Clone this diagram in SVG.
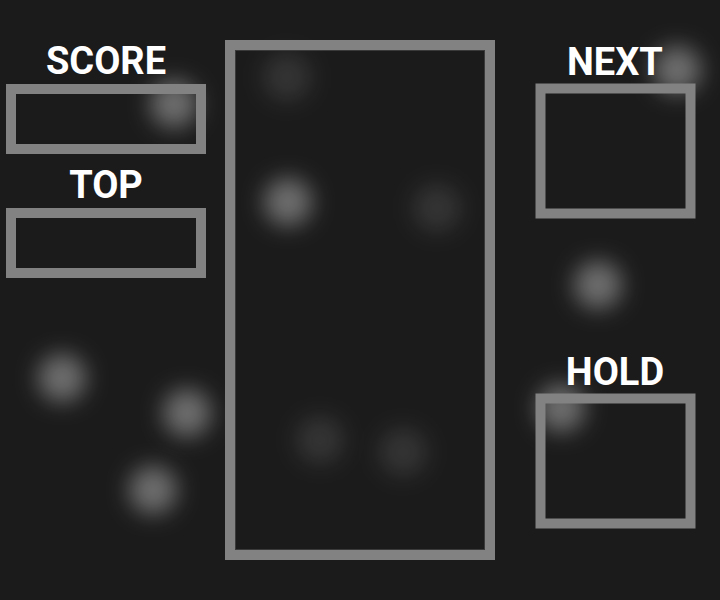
<svg xmlns="http://www.w3.org/2000/svg" width="720" height="600" viewBox="0 0 720 600">
  <defs>
    <filter id="glow" x="-100%" y="-100%" width="300%" height="300%">
      <feGaussianBlur stdDeviation="11"/>
    </filter>
  </defs>
  <style>
    .bg { fill: #1b1b1b; }
    .orb { fill: #ffffff; filter: url(#glow); }
    .bright { fill-opacity: 0.36; }
    .dim { fill-opacity: 0.11; }
    .box { fill: none; stroke: #828282; stroke-width: 10; }
    .inner { fill: none; stroke: #3a3a3a; stroke-width: 1; }
    .label { font-family: Roboto, "Liberation Sans", sans-serif; font-weight: 700; font-size: 38px; fill: #ffffff; text-anchor: middle; }
  </style>
  <rect class="bg" x="0" y="0" width="720" height="600"/>

  <g id="orbs">
    <circle class="orb bright" cx="174" cy="104" r="24"/>
    <circle class="orb dim" cx="287" cy="77" r="24"/>
    <circle class="orb bright" cx="288" cy="202" r="24"/>
    <circle class="orb dim" cx="437" cy="208" r="24"/>
    <circle class="orb bright" cx="598" cy="285" r="24"/>
    <circle class="orb bright" cx="677" cy="70" r="24"/>
    <circle class="orb bright" cx="62" cy="378" r="24"/>
    <circle class="orb bright" cx="187" cy="413" r="24"/>
    <circle class="orb bright" cx="153" cy="490" r="24"/>
    <circle class="orb dim" cx="320" cy="440" r="24"/>
    <circle class="orb dim" cx="403" cy="452" r="24"/>
    <circle class="orb bright" cx="561" cy="408" r="24"/>
  </g>

  <g id="board">
    <rect class="inner" x="235.5" y="50.5" width="249" height="499"/>
    <rect class="box" x="230" y="45" width="260" height="510"/>
  </g>

  <g id="score">
    <text class="label" x="106" y="74">SCORE</text>
    <rect class="box" x="11" y="89" width="190" height="60"/>
  </g>

  <g id="top">
    <text class="label" x="106" y="198">TOP</text>
    <rect class="box" x="11" y="213" width="190" height="60"/>
  </g>

  <g id="next">
    <text class="label" x="615" y="75">NEXT</text>
    <rect class="box" x="540.5" y="88.5" width="150" height="125"/>
  </g>

  <g id="hold">
    <text class="label" x="615" y="385">HOLD</text>
    <rect class="box" x="540.5" y="398.5" width="150" height="125"/>
  </g>
</svg>
